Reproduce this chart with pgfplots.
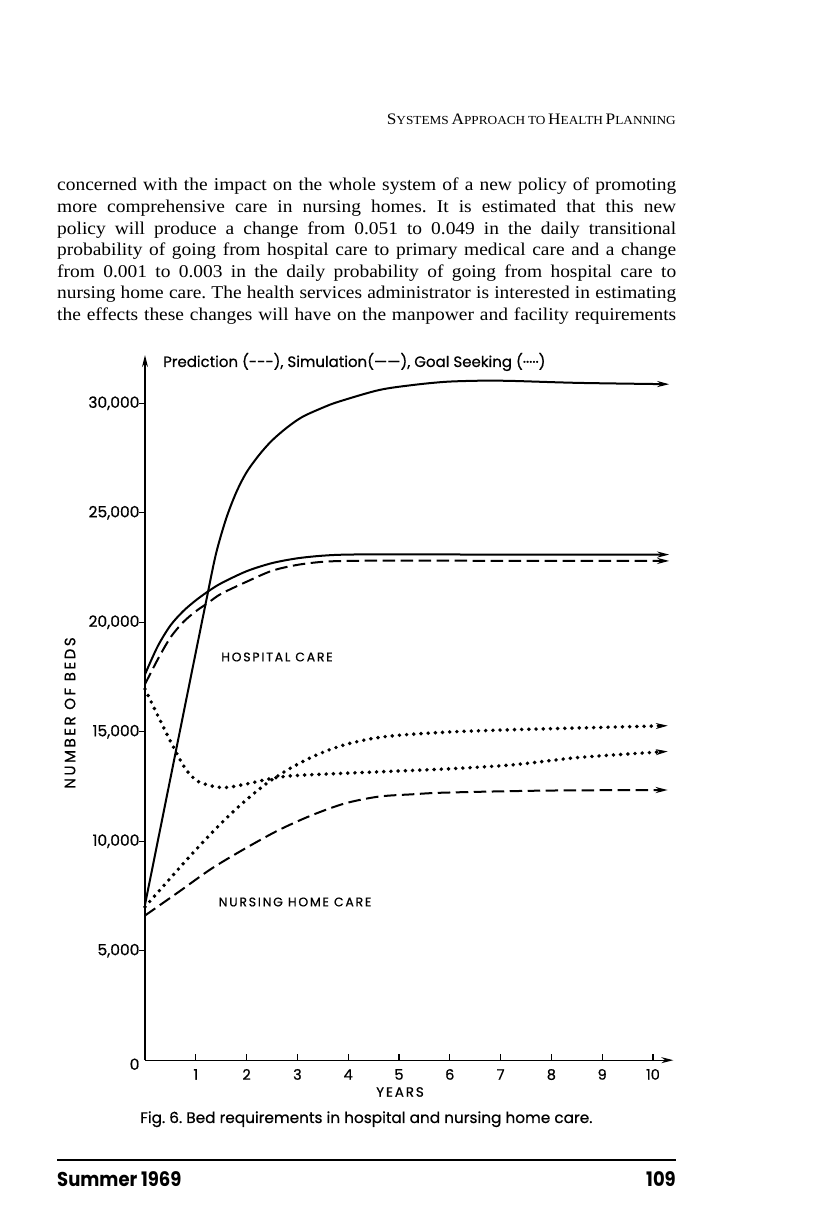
\documentclass[border=0pt]{standalone}
\usepackage{fontspec}
\usepackage{pgfplots}
\pgfplotsset{compat=1.18}
\usepackage{pgfplotstable}
\usetikzlibrary{arrows.meta}
\setmainfont{Liberation Serif}[FakeStretch=1.08]
\newfontfamily\chartfont{Poppins}[FakeBold=0.6]
\newfontfamily\chartfontls{Poppins}[LetterSpace=14,FakeBold=0.6]
\newfontfamily\chartfontlsy{Poppins}[LetterSpace=17,FakeBold=0.6]
\newfontfamily\footfont{Poppins}[FakeStretch=0.9]
\frenchspacing

\pgfplotstableread{
t v
0 7100
0.41 11830
0.82 16560
1.22 21150
1.40 23150
1.60 24750
1.80 25950
2.00 26850
2.25 27650
2.50 28300
2.80 28900
3.10 29380
3.50 29800
3.81 30070
4.60 30600
5.26 30830
5.92 30980
6.60 31030
7.23 31020
8.54 30930
10.32 30870
}\simnurs

\pgfplotstableread{
t v
0 17620
0.25 18900
0.50 19850
0.75 20500
1.00 21000
1.25 21420
1.50 21780
2.00 22330
2.50 22700
3.00 22920
3.50 23040
4.00 23090
5.00 23100
7.00 23090
10.32 23090
}\simhosp

\pgfplotstableread{
t v
0 17170
0.25 18300
0.50 19300
0.75 20000
1.00 20500
1.25 20900
1.50 21300
2.00 21850
2.50 22350
3.00 22620
3.50 22760
4.00 22800
5.00 22810
10.32 22800
}\predhosp

\pgfplotstableread{
t v
0 16950
0.26 15700
0.52 14480
0.79 13335
1.05 12725
1.51 12450
1.97 12600
2.50 12870
2.96 13000
3.94 13105
5.92 13300
7.23 13486
8.55 13826
10.29 14100
}\goalhosp

\pgfplotstableread{
t v
0 7000
0.40 8050
0.80 9100
1.20 10100
1.60 11050
2.00 11900
2.40 12650
2.80 13250
3.20 13750
3.60 14150
4.00 14450
4.50 14700
5.00 14840
6.00 14990
7.20 15090
8.50 15170
10.29 15275
}\goalnurs

\pgfplotstableread{
t v
0 6606
0.66 7679
1.31 8748
1.97 9665
2.63 10505
3.29 11193
3.94 11729
4.60 12037
5.26 12142
5.92 12220
7.89 12312
10.29 12339
}\prednurs

\newcommand\fsc[2]{{\fontsize{16}{16}\selectfont #1}{\fontsize{12.3}{12.3}\selectfont #2}}

\begin{document}
\begin{tikzpicture}[x=1pt,y=1pt]
\fill[white] (0,0) rectangle (816,1217);
\path[use as bounding box] (0,0) rectangle (816,1217);

% header
\node[anchor=base east, inner sep=0] at (676,1092)
 {\fsc{S}{YSTEMS} \fsc{A}{PPROACH} {\fontsize{12.3}{12.3}\selectfont TO} \fsc{H}{EALTH} \fsc{P}{LANNING}};

% body text
\begin{scope}[every node/.style={anchor=base west, inner sep=0, font=\fontsize{18}{21.6}\selectfont}]
\node at (57,1026) {\makebox[619pt][s]{concerned with the impact on the whole system of a new policy of promoting}};
\node at (57,1004.4) {\makebox[619pt][s]{more comprehensive care in nursing homes. It is estimated that this new}};
\node at (57,982.8) {\makebox[619pt][s]{policy will produce a change from 0.051 to 0.049 in the daily transitional}};
\node at (57,961.2) {\makebox[619pt][s]{probability of going from hospital care to primary medical care and a change}};
\node at (57,939.6) {\makebox[619pt][s]{from 0.001 to 0.003 in the daily probability of going from hospital care to}};
\node at (57,918) {\makebox[619pt][s]{nursing home care. The health services administrator is interested in estimating}};
\node at (57,896.4) {\makebox[619pt][s]{the effects these changes will have on the manpower and facility requirements}};
\end{scope}

\begin{axis}[
  at={(145pt,156.8pt)}, anchor=south west,
  scale only axis, width=528.3pt, height=705.1pt,
  xmin=0, xmax=10.4, ymin=0, ymax=32200,
  scaled y ticks=false, scaled x ticks=false,
  axis lines=left,
  axis line style={line width=1.3pt, -{Stealth[length=12pt,width=6pt]}},
  xtick={1,2,3,4,5,6,7,8,9,10},
  xticklabels={1,2,3,4,5,6,7,8,9,10},
  ytick={5000,10000,15000,20000,25000,30000},
  yticklabels={{5,000},{10,000},{15,000},{20,000},{25,000},{30,000}},
  extra y ticks={0}, extra y tick labels={0},
  extra y tick style={major tick length=0pt, yticklabel style={yshift=-4pt}},
  tick align=inside, major tick length=6pt,
  tick style={line width=1.2pt, black},
  y tick style={xshift=-6pt},
  yticklabel style={font=\chartfont\fontsize{15.5}{15.5}\selectfont, xshift=-2pt},
  xticklabel style={font=\chartfont\fontsize{14.5}{14.5}\selectfont, yshift=-6pt, text height=10pt, text depth=0pt},
  clip=false,
]
\addplot[black, line width=2pt, smooth, tension=0.5, -{Stealth[length=12pt,width=6pt]}] table {\simnurs};
\addplot[black, line width=2pt, smooth, tension=0.5, -{Stealth[length=12pt,width=6pt]}] table {\simhosp};
\addplot[black, line width=2pt, smooth, tension=0.5, dash pattern=on 12.5pt off 5.5pt, -{Stealth[length=12pt,width=6pt]}] table {\predhosp};
\addplot[black, line width=2pt, smooth, tension=0.5, dash pattern=on 12.5pt off 5.5pt, -{Stealth[length=12pt,width=6pt]}] table {\prednurs};
\addplot[black, line width=3.9pt, line cap=round, smooth, tension=0.5, dash pattern=on 0pt off 7.2pt, -{Stealth[length=12pt,width=6pt,line width=0.8pt]}] table {\goalhosp};
\addplot[black, line width=3.9pt, line cap=round, smooth, tension=0.5, dash pattern=on 0pt off 7.2pt, -{Stealth[length=12pt,width=6pt,line width=0.8pt]}] table {\goalnurs};
\end{axis}

% chart texts
\node[anchor=base west, inner sep=0, font=\chartfont\fontsize{15}{15}\selectfont] at (163,850)
 {Prediction (-{}-{}-), Simulation(——), Goal Seeking (·····)};
\node[inner sep=0, font=\chartfontls\fontsize{12.5}{12.5}\selectfont] at (277,560) {HOSPITAL CARE};
\node[inner sep=0, font=\chartfontls\fontsize{12.5}{12.5}\selectfont] at (295,315) {NURSING HOME CARE};
\node[inner sep=0, font=\chartfontls\fontsize{13.5}{13.5}\selectfont] at (400,125) {YEARS};
\node[inner sep=0, rotate=90, font=\chartfontlsy\fontsize{15}{15}\selectfont] at (70,504) {NUMBER OF BEDS};

% caption
\node[anchor=base west, inner sep=0, font=\chartfont\fontsize{15.3}{15.3}\selectfont] at (140,94)
 {Fig. 6. Bed requirements in hospital and nursing home care.};

% footer
\draw[line width=2.2pt] (57,57) -- (676,57);
\node[anchor=base west, inner sep=0, font=\footfont\bfseries\fontsize{20}{20}\selectfont] at (57,30) {Summer 1969};
\node[anchor=base east, inner sep=0, font=\footfont\bfseries\fontsize{20}{20}\selectfont] at (676,30) {109};
\end{tikzpicture}
\end{document}
